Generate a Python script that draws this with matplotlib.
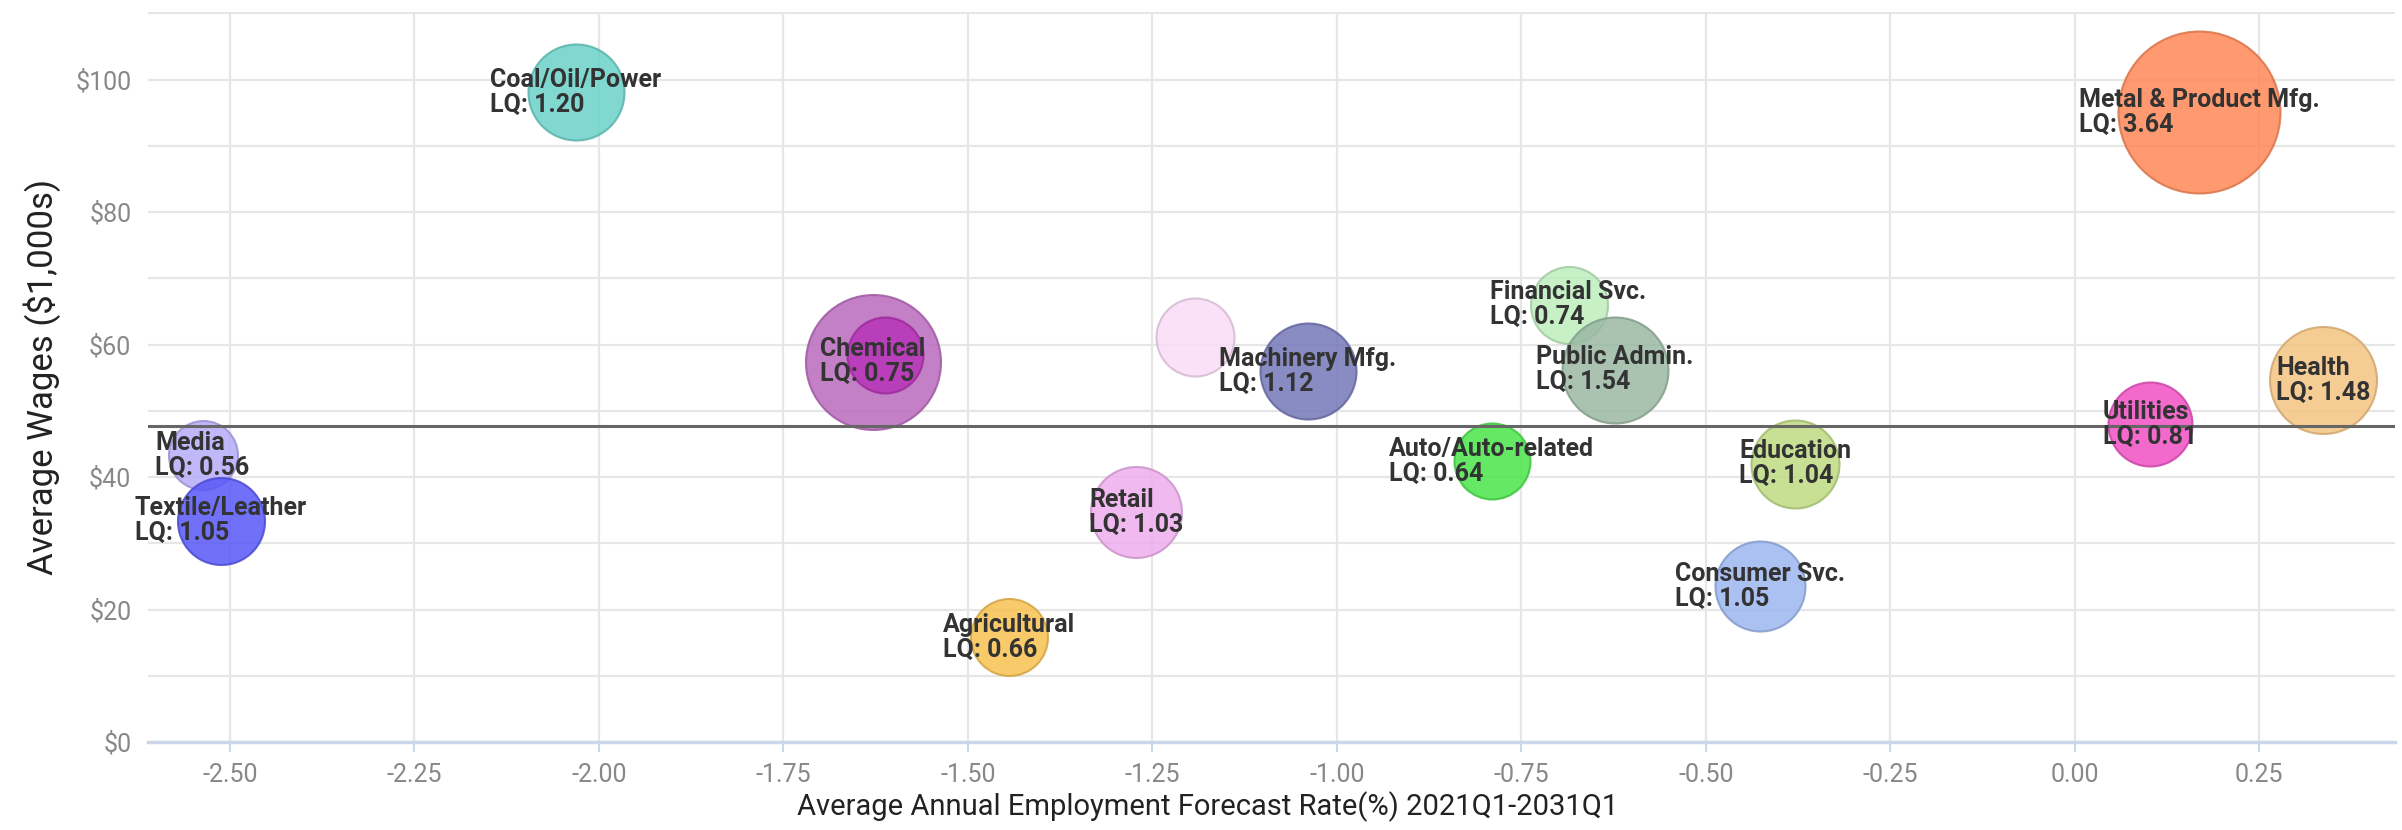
import numpy as np
import matplotlib
matplotlib.use('Agg')
from matplotlib import pyplot as plt
from matplotlib.colors import to_rgb

# industries: forecast rate (%), average wage ($1,000s), bubble size, LQ
industry = ['Chemical', None, None, 'Coal/Oil/Power', 'Metal & Product Mfg.',
            'Machinery Mfg.', 'Financial Svc.', 'Public Admin.', 'Health',
            'Utilities', 'Media', 'Textile/Leather', 'Auto/Auto-related',
            'Education', 'Retail', 'Consumer Svc.', 'Agricultural']
rate = [-1.629, -1.612, -1.192, -2.031, 0.169,
        -1.039, -0.686, -0.623, 0.337,
        0.102, -2.537, -2.512, -0.790,
        -0.379, -1.272, -0.427, -1.444]
wage = [57.4, 58.4, 61.1, 98.1, 95.1,
        56.0, 66.0, 56.2, 54.6,
        48.0, 43.3, 33.4, 42.4,
        42.0, 34.7, 23.5, 15.8]
bubble = [135, 76, 78, 96, 162,
          96, 77, 106, 107,
          84, 69, 87, 76,
          88, 91, 90, 77]
lq = [0.75, None, None, 1.20, 3.64,
      1.12, 0.74, 1.54, 1.48,
      0.81, 0.56, 1.05, 0.64,
      1.04, 1.03, 1.05, 0.66]
colors = ['#ba6abe', '#b833b8', '#fadcf7', '#6ad2c8', '#ff8857',
          '#7577b9', '#bdeebd', '#9ab9a3', '#f4c582',
          '#ef50c3', '#b6acf8', '#5757f8', '#4ae64a',
          '#bedb82', '#eeaeee', '#9bb6ef', '#f7c14f']
avg_wage = 47.7

xticks = np.arange(-2.5, 0.26, 0.25)

dpi = 100
fig = plt.figure(figsize=(24.02, 8.30), dpi=dpi)
ax = fig.add_axes([148/2402, 1-742/830, (2395-148)/2402, (742-12)/830])

s = (np.array(bubble)*72.0/dpi)**2
for i in range(len(rate)):
    edge = tuple(c*0.85 for c in to_rgb(colors[i]))
    ax.scatter(rate[i], wage[i], s=s[i], color=colors[i], alpha=0.85,
               edgecolors=[edge], linewidths=1.5, zorder=3)

for i in range(len(rate)):
    if industry[i] is None:
        continue
    ax.text(rate[i], wage[i], '{0}\nLQ: {1:.2f}'.format(industry[i], lq[i]),
            ha='center', va='center', multialignment='left',
            fontsize=18, fontweight='bold', family='Roboto',
            color='#333333', linespacing=1.05, zorder=5)

ax.axhline(avg_wage, color='#666666', lw=2.2, zorder=4)

ax.set_xlim(-2.611, 0.434)
ax.set_ylim(0, 110.2)
ax.set_xticks(xticks)
ax.set_xticklabels(['{0:.2f}'.format(v) for v in xticks])
ax.set_yticks(np.arange(0, 111, 10))
ax.set_yticklabels(['${0:d}'.format(int(v)) if v % 20 == 0 and v <= 100 else ''
                    for v in np.arange(0, 111, 10)])
ax.grid(True, color='#e6e6e6', lw=1.6, zorder=0)
ax.set_axisbelow(True)
for sp in ['top', 'right', 'left']:
    ax.spines[sp].set_visible(False)
ax.spines['bottom'].set_color('#ccd6eb')
ax.spines['bottom'].set_linewidth(2.5)
ax.tick_params(axis='x', colors='#ccd6eb', length=7, width=1.5, pad=8,
               labelcolor='#888888', labelsize=18)
ax.tick_params(axis='y', length=0, pad=12, labelcolor='#888888', labelsize=18)
for lab in ax.get_xticklabels() + ax.get_yticklabels():
    lab.set_family('Roboto')

ax.set_ylabel('Average Wages ($1,000s)', fontsize=25, family='Roboto',
              color='#222222', labelpad=10)
fig.text(1208/2402, 8/830, 'Average Annual Employment Forecast Rate(%) 2021Q1-2031Q1',
         ha='center', va='bottom', fontsize=21, family='Roboto', color='#222222')

plt.savefig('out.png', dpi=dpi)
